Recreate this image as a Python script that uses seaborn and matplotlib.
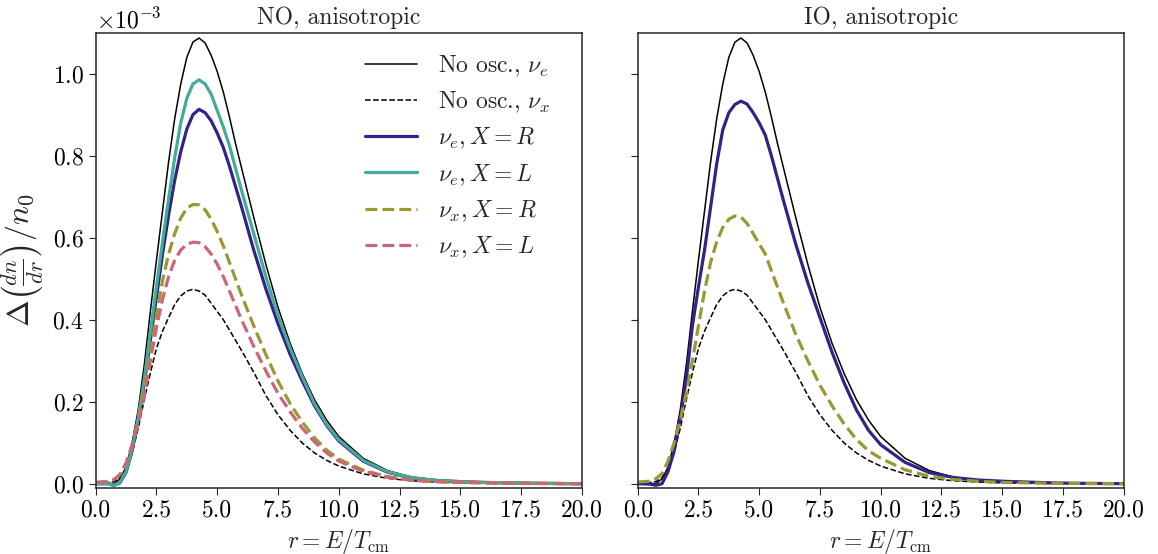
import numpy as np
import pandas as pd
import matplotlib
matplotlib.use("Agg")
import matplotlib.pyplot as plt
import seaborn as sns

# energy grid r = E / T_cm
r = [0.0, 0.5, 0.75, 1.0, 1.25, 1.5, 1.75, 2.0, 2.25, 2.5, 2.75, 3.0, 3.25, 3.5,
     3.75, 4.0, 4.25, 4.5, 4.75, 5.0, 5.25, 5.5, 5.75, 6.0, 6.5, 7.0, 7.5, 8.0,
     8.5, 9.0, 9.5, 10.0, 11.0, 12.0, 13.0, 14.0, 15.0, 16.0, 17.0, 18.0, 20.0]

# Delta(dn/dr)/n0 in units of 1e-3
no_osc_nue = [0.0, 0.001, 0.0, 0.012, 0.04, 0.10, 0.18, 0.29, 0.42, 0.545, 0.665, 0.785,
              0.89, 0.975, 1.04, 1.077, 1.087, 1.075, 1.045, 1.005, 0.955, 0.895, 0.83,
              0.77, 0.65, 0.535, 0.43, 0.342, 0.268, 0.205, 0.155, 0.115, 0.062, 0.032,
              0.016, 0.009, 0.005, 0.003, 0.002, 0.001, 0.0]
no_osc_nux = [0.002, 0.003, 0.005, 0.015, 0.036, 0.075, 0.135, 0.205, 0.27, 0.33, 0.372,
              0.405, 0.437, 0.458, 0.47, 0.474, 0.47, 0.46, 0.44, 0.42, 0.40, 0.375,
              0.35, 0.325, 0.272, 0.215, 0.168, 0.13, 0.099, 0.075, 0.057, 0.043, 0.024,
              0.013, 0.007, 0.004, 0.002, 0.001, 0.0005, 0.0, 0.0]

# normal ordering
no_nue_R = [0.0, 0.0, -0.004, 0.002, 0.028, 0.08, 0.155, 0.245, 0.35, 0.455, 0.56, 0.655,
            0.74, 0.81, 0.865, 0.9, 0.913, 0.905, 0.885, 0.855, 0.82, 0.775, 0.725,
            0.675, 0.57, 0.475, 0.39, 0.315, 0.25, 0.19, 0.142, 0.104, 0.055, 0.028,
            0.014, 0.008, 0.005, 0.003, 0.002, 0.001, 0.0]
no_nue_L = [0.0, 0.0, -0.004, 0.003, 0.03, 0.085, 0.16, 0.255, 0.37, 0.48, 0.59, 0.695,
            0.795, 0.88, 0.94, 0.975, 0.985, 0.975, 0.95, 0.91, 0.87, 0.825, 0.77,
            0.715, 0.61, 0.505, 0.41, 0.33, 0.26, 0.195, 0.145, 0.107, 0.057, 0.029,
            0.015, 0.008, 0.005, 0.003, 0.002, 0.001, 0.0]
no_nux_R = [0.003, 0.005, 0.01, 0.022, 0.05, 0.095, 0.155, 0.235, 0.32, 0.41, 0.495, 0.56,
            0.61, 0.648, 0.672, 0.681, 0.68, 0.668, 0.645, 0.615, 0.58, 0.54, 0.5,
            0.46, 0.385, 0.315, 0.25, 0.195, 0.15, 0.112, 0.082, 0.06, 0.033, 0.017,
            0.009, 0.005, 0.003, 0.002, 0.001, 0.0005, 0.0]
no_nux_L = [0.003, 0.005, 0.01, 0.022, 0.05, 0.092, 0.148, 0.215, 0.30, 0.38, 0.45, 0.505,
            0.545, 0.57, 0.584, 0.589, 0.588, 0.578, 0.56, 0.535, 0.505, 0.47, 0.435,
            0.40, 0.335, 0.275, 0.22, 0.175, 0.135, 0.102, 0.075, 0.055, 0.03, 0.016,
            0.008, 0.005, 0.003, 0.002, 0.001, 0.0005, 0.0]

# inverted ordering
io_nue_R = [0.0, -0.001, -0.004, 0.0, 0.03, 0.08, 0.16, 0.255, 0.385, 0.48, 0.57, 0.675,
            0.78, 0.863, 0.905, 0.925, 0.933, 0.926, 0.905, 0.88, 0.85, 0.80, 0.745,
            0.69, 0.585, 0.49, 0.405, 0.32, 0.245, 0.18, 0.13, 0.095, 0.052, 0.027,
            0.015, 0.009, 0.006, 0.004, 0.002, 0.001, 0.0]
io_nux_R = [0.004, 0.006, 0.012, 0.025, 0.055, 0.1, 0.155, 0.22, 0.30, 0.385, 0.47, 0.54,
            0.59, 0.625, 0.645, 0.653, 0.65, 0.635, 0.61, 0.585, 0.56, 0.52, 0.48,
            0.44, 0.365, 0.30, 0.24, 0.19, 0.145, 0.108, 0.08, 0.062, 0.034, 0.018,
            0.01, 0.006, 0.003, 0.002, 0.001, 0.0005, 0.0]

panel_titles = ["NO, anisotropic", "IO, anisotropic"]
labels = [r"No osc., $\nu_e$", r"No osc., $\nu_x$", r"$\nu_e, X=R$", r"$\nu_e, X=L$",
          r"$\nu_x, X=R$", r"$\nu_x, X=L$"]
xticks = [0.0, 2.5, 5.0, 7.5, 10.0, 12.5, 15.0, 17.5, 20.0]
yticks = [0.0, 0.2, 0.4, 0.6, 0.8, 1.0]

sns.set_style("ticks")
plt.rcParams.update({
    "font.family": ["cmr10", "DejaVu Serif"],
    "mathtext.fontset": "cm",
    "axes.formatter.use_mathtext": True,
    "axes.unicode_minus": False,
    "font.size": 17,
    "axes.edgecolor": ".15",
    "axes.linewidth": 1.1,
    "xtick.color": ".15",
    "ytick.color": ".15",
    "xtick.labelcolor": "black",
    "ytick.labelcolor": "black",
    "xtick.major.size": 5,
    "ytick.major.size": 5,
})

teal, navy, olive, rose = "#44AA99", "#332288", "#999933", "#CC6677"
thin, thick = 1.1, 2.3

fig = plt.figure(figsize=(11.58, 5.54), dpi=100)
ax1 = fig.add_axes([0.0826, 0.1197, 0.4200, 0.8213])
ax2 = fig.add_axes([0.5507, 0.1197, 0.4197, 0.8213], sharey=ax1)

scale = 1e-3
rr = np.array(r)


def draw(ax, y, color, lw, ls, label=None):
    sns.lineplot(x=rr, y=np.array(y) * scale, ax=ax, color=color, lw=lw,
                 linestyle=ls, label=label, sort=False, legend=False)


# left: normal ordering
draw(ax1, no_osc_nue, "black", thin, "-", labels[0])
draw(ax1, no_osc_nux, "black", thin, "--", labels[1])
draw(ax1, no_nue_R, navy, thick, "-", labels[2])
draw(ax1, no_nue_L, teal, thick, "-", labels[3])
draw(ax1, no_nux_R, olive, thick, "--", labels[4])
draw(ax1, no_nux_L, rose, thick, "--", labels[5])

# right: inverted ordering
draw(ax2, no_osc_nue, "black", thin, "-")
draw(ax2, no_osc_nux, "black", thin, "--")
draw(ax2, io_nue_R, navy, thick, "-")
draw(ax2, io_nux_R, olive, thick, "--")

for ax, title in zip([ax1, ax2], panel_titles):
    ax.set_xlim(0, 20)
    ax.set_xticks(xticks)
    ax.set_xticklabels([f"{t:.1f}" for t in xticks])
    ax.set_title(title, fontsize=17, pad=6)
    ax.set_xlabel(r"$r = E/T_{\rm cm}$", fontsize=17)
    ax.tick_params(labelsize=17)

ax1.set_ylim(-0.00976e-3, 1.1e-3)
ax1.set_yticks([t * scale for t in yticks])
ax1.ticklabel_format(axis="y", style="sci", scilimits=(0, 0), useMathText=True)
ax1.set_ylabel(r"$\Delta\left(\frac{dn}{dr}\right)/n_0$", fontsize=23, labelpad=5)
ax1.yaxis.get_offset_text().set_fontsize(17)
ax2.tick_params(labelleft=False)
ax2.set_ylabel("")

ax1.legend(loc="upper left", bbox_to_anchor=(0.535, 0.975), frameon=False,
           fontsize=17, handlelength=2.2, labelspacing=0.45, handletextpad=0.9,
           borderaxespad=0.0)

fig.savefig("out.png", dpi=100)
